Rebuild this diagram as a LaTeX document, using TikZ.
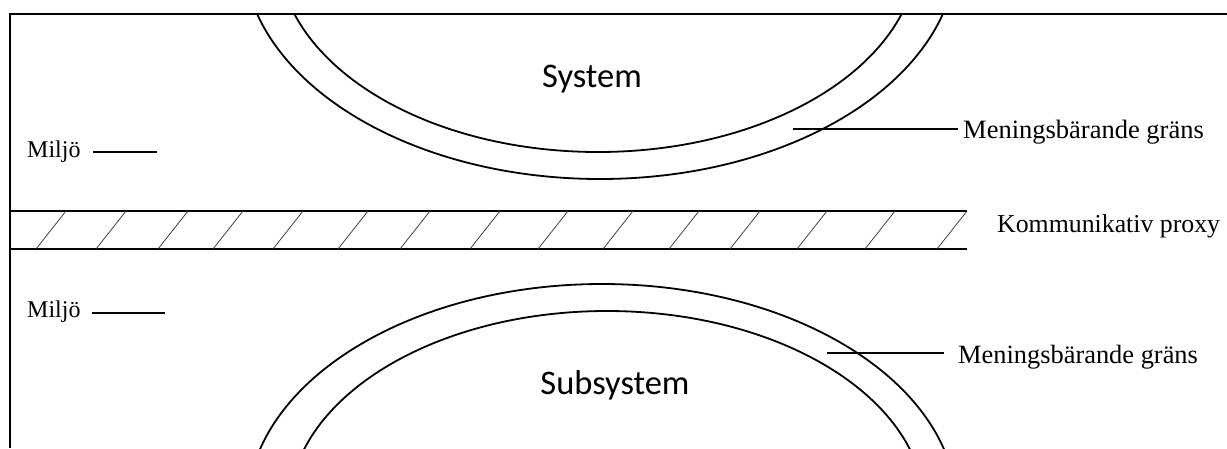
\documentclass[tikz,border=0pt]{standalone}
\usepackage{fontspec}
\setmainfont{Liberation Serif}
\newfontfamily\carlito{Carlito}
\begin{document}
\begin{tikzpicture}[x=1pt,y=-1pt,
  frameline/.style={line width=1.6pt,black},
  ringline/.style={line width=1.8pt,black},
  hatchline/.style={line width=0.8pt,black!75},
  leader/.style={line width=1.5pt,black},
  serlbl/.style={inner sep=0pt,font=\fontsize{#1}{#1}\selectfont},
  syslbl/.style={inner sep=0pt,font=\carlito\fontsize{34.5}{36}\selectfont}]
\useasboundingbox (0,0) rectangle (1227,448);
% frame
\coordinate (tl) at (10,14);
\coordinate (tr) at (1227,14);
\coordinate (bl) at (10,448);
\draw[frameline] (tr) -- (tl) -- (bl);
% communicative proxy band
\coordinate (pa) at (10,211);
\coordinate (pb) at (967,211);
\coordinate (pc) at (10,249);
\coordinate (pd) at (967,249);
\draw[frameline] (pa) -- (pb);
\draw[frameline] (pc) -- (pd);
\foreach \xb in {36,96,158,213,273,338,400,470,538,603,669,730,797,865,937}
  \draw[hatchline] (\xb,249) -- (\xb+30,211);
% system rings
\begin{scope}
  \clip (10,14) rectangle (1227,211);
  \draw[ringline] (600,-50) ellipse [x radius=357pt, y radius=229pt];
  \draw[ringline] (598,-50) ellipse [x radius=320pt, y radius=202pt];
\end{scope}
% subsystem rings
\begin{scope}
  \clip (10,249) rectangle (1227,448);
  \draw[ringline] (602,510) ellipse [x radius=355pt, y radius=226pt];
  \draw[ringline] (607,510) ellipse [x radius=318pt, y radius=199pt];
\end{scope}
% labels
\node[syslbl, anchor=base] (sys) at (592,87) {System};
\node[syslbl, anchor=base] (sub) at (615,394) {Subsystem};
\node[serlbl=24, anchor=base west] (miljo1) at (27,157) {Miljö};
\node[serlbl=24, anchor=base west] (miljo2) at (27,317) {Miljö};
\node[serlbl=26.5, anchor=base west] (mg1) at (963,138) {Meningsbärande gräns};
\node[serlbl=26.4, anchor=base west] (mg2) at (958,363) {Meningsbärande gräns};
\node[serlbl=25.8, anchor=base west] (kp) at (997,232) {Kommunikativ proxy};
% leader lines
\coordinate (m1a) at (93,152);
\coordinate (m1b) at (157,152);
\draw[leader] (m1a) -- (m1b);
\coordinate (m2a) at (92,313);
\coordinate (m2b) at (165,313);
\draw[leader] (m2a) -- (m2b);
\coordinate (g1a) at (793,129);
\coordinate (g1b) at (958,129);
\draw[leader] (g1a) -- (g1b);
\coordinate (g2a) at (827,353);
\coordinate (g2b) at (944,353);
\draw[leader] (g2a) -- (g2b);
\end{tikzpicture}
\end{document}
